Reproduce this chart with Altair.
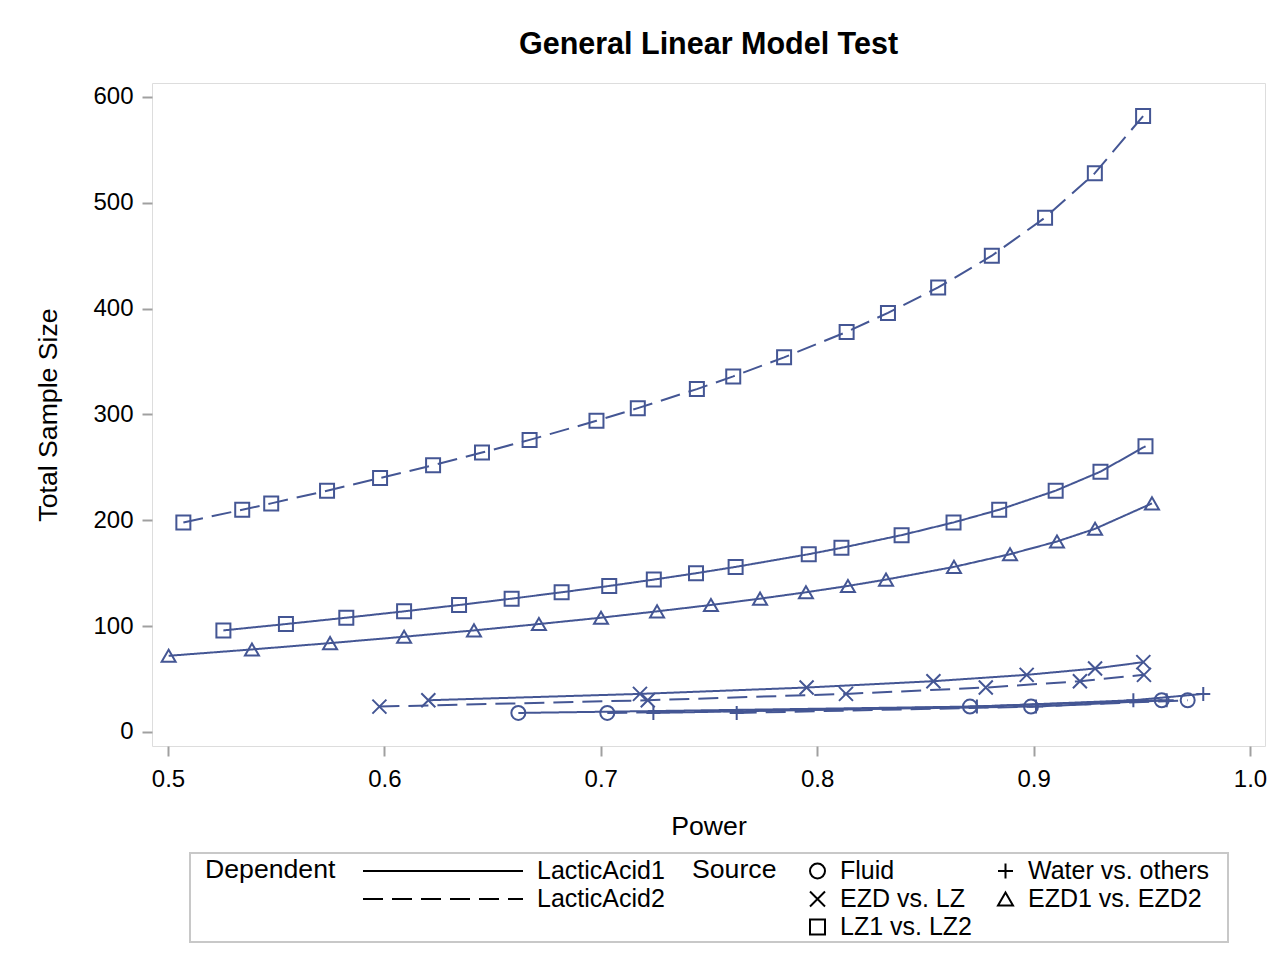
import altair as alt
import pandas as pd

# ---------------- data ----------------
sources = ["Fluid", "Water vs. others", "EZD vs. LZ", "EZD1 vs. EZD2", "LZ1 vs. LZ2"]
dependents = ["LacticAcid1", "LacticAcid2"]

lz_la2_power = [0.5071, 0.5343, 0.5477, 0.5735, 0.5980, 0.6225, 0.6451, 0.6671, 0.6980, 0.7171,
                0.7444, 0.7612, 0.7847, 0.8136, 0.8327, 0.8559, 0.8807, 0.9053, 0.9283, 0.9506]
lz_la2_n = [198, 210, 216, 228, 240, 252, 264, 276, 294, 306, 324, 336, 354, 378, 396, 420, 450, 486, 528, 582]

lz_la1_power = [0.5256, 0.5545, 0.5824, 0.6091, 0.6345, 0.6588, 0.6819, 0.7039, 0.7245, 0.7440,
                0.7623, 0.7961, 0.8112, 0.8390, 0.8630, 0.8841, 0.9102, 0.9309, 0.9517]
lz_la1_n = [96, 102, 108, 114, 120, 126, 132, 138, 144, 150, 156, 168, 174, 186, 198, 210, 228, 246, 270]

ezd12_la1_power = [0.5003, 0.5388, 0.5749, 0.6091, 0.6414, 0.6714, 0.7001, 0.7260, 0.7509, 0.7736,
                   0.7948, 0.8142, 0.8318, 0.8632, 0.8891, 0.9108, 0.9284, 0.9547]
ezd12_la1_n = [72, 78, 84, 90, 96, 102, 108, 114, 120, 126, 132, 138, 144, 156, 168, 180, 192, 216]

ezdlz_la1_power = [0.6203, 0.7181, 0.7951, 0.8537, 0.8968, 0.9284, 0.9507]
ezdlz_la1_n = [30, 36, 42, 48, 54, 60, 66]
ezdlz_la2_power = [0.5977, 0.7217, 0.8133, 0.8779, 0.9214, 0.9510]
ezdlz_la2_n = [24, 30, 36, 42, 48, 54]

fluid_la1_power = [0.6619, 0.8706, 0.9592]
fluid_la1_n = [18, 24, 30]
fluid_la2_power = [0.7030, 0.8988, 0.9712]
fluid_la2_n = [18, 24, 30]

water_la1_power = [0.7243, 0.8738, 0.9461, 0.9784]
water_la1_n = [18, 24, 30, 36]
water_la2_power = [0.7628, 0.9011, 0.9615]
water_la2_n = [18, 24, 30]

x_ticks = [0.5, 0.6, 0.7, 0.8, 0.9, 1.0]
y_ticks = [0, 100, 200, 300, 400, 500, 600]

series = [
    ("LZ1 vs. LZ2", "LacticAcid2", lz_la2_power, lz_la2_n),
    ("LZ1 vs. LZ2", "LacticAcid1", lz_la1_power, lz_la1_n),
    ("EZD1 vs. EZD2", "LacticAcid1", ezd12_la1_power, ezd12_la1_n),
    ("EZD vs. LZ", "LacticAcid1", ezdlz_la1_power, ezdlz_la1_n),
    ("EZD vs. LZ", "LacticAcid2", ezdlz_la2_power, ezdlz_la2_n),
    ("Fluid", "LacticAcid1", fluid_la1_power, fluid_la1_n),
    ("Fluid", "LacticAcid2", fluid_la2_power, fluid_la2_n),
    ("Water vs. others", "LacticAcid1", water_la1_power, water_la1_n),
    ("Water vs. others", "LacticAcid2", water_la2_power, water_la2_n),
]
rows = []
for src, dep, pw, ns in series:
    for p, n in zip(pw, ns):
        rows.append({"Source": src, "Dependent": dep, "Power": p, "N": n})
df = pd.DataFrame(rows)

# ---------------- styling ----------------
FONT = "Liberation Sans"
BLUE = "#445694"
GRAY = "#a0a0a0"

shape_range = ["circle", "M-1,0L1,0M0,-1L0,1", "M-1,-1L1,1M-1,1L1,-1", "triangle-up", "square"]

xscale = alt.Scale(domain=[0.49261, 1.00693], nice=False, zero=False)
yscale = alt.Scale(domain=[-13.23, 613.2], nice=False, zero=False)

common_axis = dict(
    domain=False, grid=False, tickSize=10, tickWidth=2, tickColor=GRAY,
    labelFont=FONT, labelFontSize=24, labelColor="black", labelFlush=False, labelOverlap=False,
    titleFont=FONT, titleFontSize=26.67, titleFontWeight="normal", titleColor="black",
)
xaxis = alt.Axis(values=x_ticks, format=".1f", title="Power", labelPadding=11, titlePadding=22, **common_axis)
yaxis = alt.Axis(values=y_ticks, format="d", title="Total Sample Size", labelPadding=9, titlePadding=30, **common_axis)

dep_legend = alt.Legend(
    title="Dependent", orient="none", legendX=53, legendY=774,
    titleOrient="left", titleAnchor="start", titleBaseline="top", titlePadding=26,
    titleFont=FONT, titleFontSize=26.67, titleFontWeight="normal", titleColor="black",
    labelFont=FONT, labelFontSize=25, labelColor="black", labelOffset=13,
    symbolType="stroke", symbolSize=25600, symbolStrokeColor="black", symbolStrokeWidth=2,
    clipHeight=28, rowPadding=0, padding=0, direction="vertical", labelLimit=400,
)
src_legend = alt.Legend(
    title="Source", orient="none", legendX=540, legendY=774,
    titleOrient="left", titleAnchor="start", titleBaseline="top", titlePadding=28,
    titleFont=FONT, titleFontSize=26.67, titleFontWeight="normal", titleColor="black",
    labelFont=FONT, labelFontSize=25, labelColor="black", labelOffset=10, labelLimit=400,
    symbolSize=225, symbolStrokeColor="black", symbolStrokeWidth=2,
    columns=2, columnPadding=21, clipHeight=28, rowPadding=0, padding=0, direction="horizontal",
)

lines = alt.Chart(df).mark_line(color=BLUE, strokeWidth=2).encode(
    x=alt.X("Power:Q", scale=xscale, axis=xaxis),
    y=alt.Y("N:Q", scale=yscale, axis=yaxis),
    strokeDash=alt.StrokeDash("Dependent:N",
                              scale=alt.Scale(domain=dependents, range=[[1, 0], [20, 9]]),
                              legend=dep_legend),
    detail="Source:N",
)

points = alt.Chart(df).mark_point(filled=False, size=196, strokeWidth=2, color=BLUE, opacity=1).encode(
    x=alt.X("Power:Q", scale=xscale),
    y=alt.Y("N:Q", scale=yscale),
    shape=alt.Shape("Source:N", scale=alt.Scale(domain=sources, range=shape_range), legend=src_legend),
    detail="Dependent:N",
)

legend_box = alt.Chart(alt.Data(values=[{"k": 1}])).mark_rect(
    fillOpacity=0, stroke="#c8c8c8", strokeWidth=2
).encode(x=alt.value(38), x2=alt.value(1076), y=alt.value(770), y2=alt.value(859))

chart = alt.layer(legend_box, lines, points).properties(
    width=1113, height=663,
    padding={"left": 144, "top": 75, "right": 12, "bottom": 206},
    autosize=alt.AutoSizeParams(type="none"),
    title=alt.Title("General Linear Model Test", font=FONT, fontSize=30.5, fontWeight="bold",
                    color="black", anchor="middle", baseline="alphabetic", offset=-1),
).configure_view(stroke=GRAY, strokeWidth=2).configure(background="white")

chart.save("out.html", embed_options={"renderer": "svg", "actions": False})
